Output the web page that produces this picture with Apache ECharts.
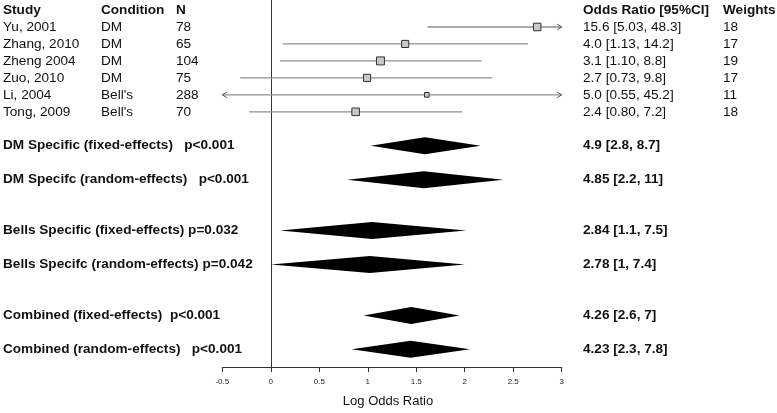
<!DOCTYPE html>
<html>
<head>
<meta charset="utf-8">
<script src="https://cdn.jsdelivr.net/npm/echarts@6/dist/echarts.min.js"></script>
<style>html,body{margin:0;padding:0;background:#fff}#c{width:777px;height:413px}</style>
</head>
<body>
<div id="c"></div>
<script>
// ---- data ----
const headers = ['Study', 'Condition', 'N', 'Odds Ratio [95%CI]', 'Weights'];
const studies = ['Yu, 2001', 'Zhang, 2010', 'Zheng 2004', 'Zuo, 2010', 'Li, 2004', 'Tong, 2009'];
const conditions = ['DM', 'DM', 'DM', 'DM', "Bell's", "Bell's"];
const sampleN = [78, 65, 104, 75, 288, 70];
const orText = ['15.6 [5.03, 48.3]', '4.0 [1.13, 14.2]', '3.1 [1.10, 8.8]', '2.7 [0.73, 9.8]', '5.0 [0.55, 45.2]', '2.4 [0.80, 7.2]'];
const weights = [18, 17, 19, 17, 11, 18];
const studyLogOR = [2.747, 1.386, 1.131, 0.993, 1.609, 0.875];
const studyLow = [1.615, 0.122, 0.095, -0.315, -0.598, -0.223];
const studyHigh = [3.877, 2.653, 2.175, 2.282, 3.811, 1.974];
const studyRows = [1, 2, 3, 4, 5, 6];

const summaryLabels = ['DM Specific (fixed-effects)', 'DM Specifc (random-effects)', 'Bells Specific (fixed-effects)', 'Bells Specifc (random-effects)', 'Combined (fixed-effects)', 'Combined (random-effects)'];
const summarySep = ['   ', '   ', ' ', ' ', '  ', '   '];
const summaryP = ['p<0.001', 'p<0.001', 'p=0.032', 'p=0.042', 'p<0.001', 'p<0.001'];
const summaryText = ['4.9 [2.8, 8.7]', '4.85 [2.2, 11]', '2.84 [1.1, 7.5]', '2.78 [1, 7.4]', '4.26 [2.6, 7]', '4.23 [2.3, 7.8]'];
const summaryEst = [1.589, 1.579, 1.044, 1.022, 1.449, 1.442];
const summaryLow = [1.030, 0.788, 0.095, 0.0, 0.956, 0.833];
const summaryHigh = [2.163, 2.398, 2.015, 2.001, 1.946, 2.054];
const summaryRows = [8, 10, 13, 15, 18, 20];

const xTicks = [-0.5, 0, 0.5, 1, 1.5, 2, 2.5, 3];

// ---- chart ----
const FONT = "'Liberation Sans', Arial, sans-serif";
const TXT = '#111';
const XMIN = xTicks[0], XMAX = xTicks[xTicks.length - 1];
const chart = echarts.init(document.getElementById('c'), null, {renderer: 'canvas'});

function txt(x, y, s, bold) {
  return {type: 'text', x: x, y: y, style: {text: s, fill: TXT, font: (bold ? 'bold ' : '') + '13.6px ' + FONT, textAlign: 'left', textVerticalAlign: 'middle'}};
}

const colX = [3, 101, 176, 583, 723];

const option = {
  animation: false,
  grid: {left: 222.3, right: 215.3, top: 0, bottom: 46},
  xAxis: {
    type: 'value', min: XMIN, max: XMAX, interval: 0.5,
    name: 'Log Odds Ratio', nameLocation: 'middle', nameGap: 28,
    nameTextStyle: {fontFamily: FONT, fontSize: 13, color: TXT, padding: [0, 8, 0, 0]},
    axisLine: {show: true, onZero: false, lineStyle: {color: '#333', width: 1}},
    axisTick: {show: true, length: 5, lineStyle: {color: '#333'}},
    axisLabel: {fontFamily: FONT, fontSize: 8, color: '#222', margin: 11},
    splitLine: {show: false}
  },
  yAxis: {
    type: 'value', inverse: true, min: -0.59, max: 21.04,
    axisLine: {show: true, onZero: true, lineStyle: {color: '#333', width: 1}},
    axisTick: {show: false}, axisLabel: {show: false}, splitLine: {show: false}
  },
  series: [
    {
      type: 'custom', clip: false,
      data: studyRows.map((r, i) => [studyLogOR[i], r, studyLow[i], studyHigh[i], weights[i]]),
      renderItem: function (params, api) {
        const est = api.value(0), row = api.value(1), lo = api.value(2), hi = api.value(3), w = api.value(4);
        const pL = api.coord([Math.max(lo, XMIN), row]);
        const pH = api.coord([Math.min(hi, XMAX), row]);
        const pE = api.coord([est, row]);
        const children = [];
        const ls = {stroke: '#8f8f8f', lineWidth: 1.3};
        children.push({type: 'line', shape: {x1: pL[0], y1: pL[1], x2: pH[0], y2: pH[1]}, style: ls});
        if (hi > XMAX) {
          children.push({type: 'polyline', shape: {points: [[pH[0] - 4.5, pH[1] - 2.8], [pH[0], pH[1]], [pH[0] - 4.5, pH[1] + 2.8]]}, style: {stroke: '#555', lineWidth: 1, fill: null}});
        }
        if (lo < XMIN) {
          children.push({type: 'polyline', shape: {points: [[pL[0] + 4.5, pL[1] - 2.8], [pL[0], pL[1]], [pL[0] + 4.5, pL[1] + 2.8]]}, style: {stroke: '#555', lineWidth: 1, fill: null}});
        }
        const s = w * 0.42;
        children.push({type: 'rect', shape: {x: pE[0] - s / 2, y: pE[1] - s / 2, width: s, height: s}, style: {fill: '#c8c8c8', stroke: '#333', lineWidth: 1}});
        return {type: 'group', children: children};
      }
    },
    {
      type: 'custom', clip: false,
      data: summaryRows.map((r, i) => [summaryEst[i], r, summaryLow[i], summaryHigh[i]]),
      renderItem: function (params, api) {
        const row = api.value(1);
        const pE = api.coord([api.value(0), row]);
        const pL = api.coord([api.value(2), row]);
        const pH = api.coord([api.value(3), row]);
        const h = 8.5;
        return {type: 'polygon', shape: {points: [[pL[0], pL[1]], [pE[0], pE[1] - h], [pH[0], pH[1]], [pE[0], pE[1] + h]]}, style: {fill: '#000'}};
      }
    },
    {
      type: 'custom', clip: false, silent: true,
      data: [[0, 0]],
      renderItem: function (params, api) {
        const children = [];
        const yh = api.coord([0, 0])[1];
        headers.forEach((h, k) => children.push(txt(colX[k], yh, h, true)));
        studyRows.forEach((r, i) => {
          const y = api.coord([0, r])[1];
          children.push(txt(colX[0], y, studies[i], false));
          children.push(txt(colX[1], y, conditions[i], false));
          children.push(txt(colX[2], y, String(sampleN[i]), false));
          children.push(txt(colX[3], y, orText[i], false));
          children.push(txt(colX[4], y, String(weights[i]), false));
        });
        summaryRows.forEach((r, i) => {
          const y = api.coord([0, r])[1];
          children.push(txt(colX[0], y, summaryLabels[i] + summarySep[i] + summaryP[i], true));
          children.push(txt(colX[3], y, summaryText[i], true));
        });
        return {type: 'group', children: children};
      }
    }
  ]
};
chart.setOption(option);
</script>
</body>
</html>
